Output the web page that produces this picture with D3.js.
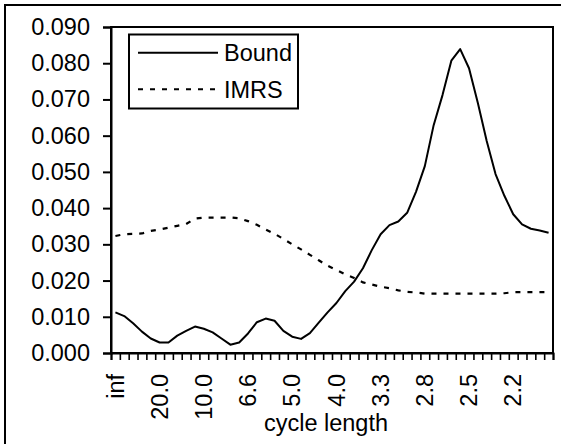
<!DOCTYPE html>
<html><head><meta charset="utf-8">
<script src="https://cdn.jsdelivr.net/npm/d3@7"></script>
<style>body{margin:0;background:#fff}svg{display:block}text{font-family:"Liberation Sans",Arial,sans-serif;fill:#000}</style>
</head><body><svg id="c" width="561" height="444"></svg>
<script>
const categories = ["inf","100.0","50.0","33.3","25.0","20.0","16.6","14.2","12.5","11.1",
"10.0","9.0","8.3","7.6","7.1","6.6","6.2","5.8","5.5","5.2",
"5.0","4.7","4.5","4.3","4.1","4.0","3.8","3.7","3.5","3.4",
"3.3","3.2","3.1","3.0","2.9","2.8","2.7","2.7","2.6","2.5",
"2.5","2.4","2.3","2.3","2.2","2.2","2.1","2.1","2.0","2.0"];
const bound = [0.0112,0.0102,0.0082,0.0059,0.0040,0.0029,0.0029,0.0048,0.0061,0.0073,
0.0067,0.0057,0.0040,0.0023,0.0029,0.0054,0.0085,0.0095,0.0089,0.0061,
0.0045,0.0039,0.0055,0.0084,0.0112,0.0138,0.0171,0.0197,0.0234,0.0284,
0.0328,0.0353,0.0363,0.0387,0.0445,0.0516,0.0629,0.0712,0.0807,0.0839,
0.0786,0.0690,0.0585,0.0494,0.0434,0.0383,0.0355,0.0343,0.0338,0.0332];
const imrs = [0.0323,0.0328,0.0329,0.0330,0.0337,0.0341,0.0346,0.0351,0.0356,0.0371,
0.0374,0.0374,0.0374,0.0374,0.0372,0.0364,0.0354,0.0341,0.0329,0.0315,
0.0300,0.0286,0.0271,0.0256,0.0241,0.0229,0.0217,0.0207,0.0195,0.0189,
0.0183,0.0179,0.0173,0.0169,0.0167,0.0164,0.0164,0.0164,0.0164,0.0164,
0.0164,0.0164,0.0164,0.0164,0.0165,0.0168,0.0168,0.0168,0.0168,0.0168];
const yTicks = [0,0.01,0.02,0.03,0.04,0.05,0.06,0.07,0.08,0.09];
const labelEvery = 5;
const seriesNames = ["Bound","IMRS"];

const FS = "23.5px";
const svg = d3.select("#c");
const L=111,R=553,T=27,B=353;
const x = d3.scaleBand().domain(d3.range(categories.length)).range([L,R]).padding(0);
const xEdge = d3.scaleLinear().domain([0,categories.length]).range([L,R]);
const y = d3.scaleLinear().domain([0,0.09]).range([B,T]);

svg.append("rect").attr("x",5).attr("y",5).attr("width",600).attr("height",500)
  .attr("fill","none").attr("stroke","#000").attr("stroke-width",2);

svg.append("rect").attr("x",L).attr("y",T).attr("width",R-L).attr("height",B-T)
  .attr("fill","none").attr("stroke","#000").attr("stroke-width",2);

const ya = svg.append("g").attr("transform",`translate(${L},0)`)
  .call(d3.axisLeft(y).tickValues(yTicks).tickFormat(d3.format(".3f")).tickSize(8).tickPadding(13));
ya.select(".domain").attr("stroke-width",2);
ya.selectAll(".tick line").attr("stroke-width",2);
ya.selectAll("text").style("font-size",FS).style("font-family","Liberation Sans, Arial, sans-serif");

const xt = svg.append("g").attr("transform",`translate(0,${B})`)
  .call(d3.axisBottom(xEdge).tickValues(d3.range(categories.length+1)).tickFormat("").tickSize(7));
xt.select(".domain").attr("stroke-width",2);
xt.selectAll(".tick line").attr("stroke-width",1.6);

const xl = svg.append("g").attr("transform",`translate(0,${B})`)
  .call(d3.axisBottom(x).tickValues(d3.range(0,categories.length,labelEvery)).tickFormat(i=>categories[i]).tickSize(0));
xl.select(".domain").remove();
xl.selectAll("text").style("font-size",FS).style("font-family","Liberation Sans, Arial, sans-serif")
  .attr("transform","rotate(-90)").attr("text-anchor","end").attr("x",-21).attr("y",0).attr("dy","0.35em");

svg.append("text").attr("x",(L+R)/2-6).attr("y",431).attr("text-anchor","middle")
  .style("font-size",FS).text("cycle length");

const line = d3.line().x((d,i)=>x(i)+x.bandwidth()/2).y(d=>y(d));
svg.append("path").datum(imrs).attr("d",line).attr("fill","none").attr("stroke","#000")
  .attr("stroke-width",2.2).attr("stroke-dasharray","5,7");
svg.append("path").datum(bound).attr("d",line).attr("fill","none").attr("stroke","#000")
  .attr("stroke-width",2).attr("stroke-linejoin","round");

const lg = svg.append("g");
lg.append("rect").attr("x",129).attr("y",34.5).attr("width",169).attr("height",74)
  .attr("fill","#fff").attr("stroke","#000").attr("stroke-width",2);
const styles = [{dash:null},{dash:"5,7"}];
seriesNames.forEach((n,i)=>{
  const yy = 52.7 + i*36.6;
  lg.append("line").attr("x1",138).attr("x2",218).attr("y1",yy).attr("y2",yy)
    .attr("stroke","#000").attr("stroke-width",2).attr("stroke-dasharray",styles[i].dash);
  lg.append("text").attr("x",224).attr("y",yy+8.5).style("font-size",FS).text(n);
});
</script></body></html>
